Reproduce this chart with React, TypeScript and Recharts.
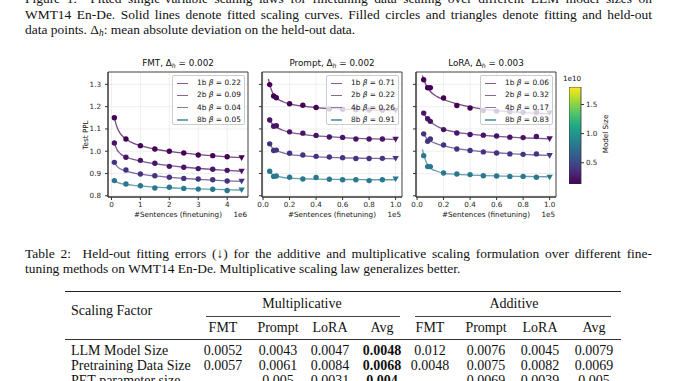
import React from 'react';
import { ComposedChart, Line, Scatter, XAxis, YAxis, CartesianGrid, ReferenceArea, BarChart, Bar } from 'recharts';

// ---------- shared ----------
const MODELS = ['1b', '2b', '4b', '8b'];
const MODEL_COLORS = ['#440154', '#481467', '#46337f', '#2a788e'];
const Y_TICKS = [0.8, 0.9, 1.0, 1.1, 1.2, 1.3];
const Y_DOMAIN: [number, number] = [0.7945, 1.3555];

// ---------- FMT (x in 1e6 sentences) ----------
const fmtXTicks = [0, 1, 2, 3, 4];
const fmtXDomain: [number, number] = [-0.12, 4.72];
const fmtDelta = '0.002';
const fmtBetas = [0.22, 0.09, 0.04, 0.05];
const fmtFitX = [0.1, 0.5, 1, 1.5, 2, 2.5, 3, 3.5, 4];
const fmtHeldX = [4.5];
const fmtFit1b = [1.150, 1.055, 1.025, 1.010, 1.000, 0.992, 0.983, 0.980, 0.975];
const fmtFit2b = [1.037, 0.973, 0.959, 0.946, 0.932, 0.928, 0.922, 0.919, 0.914];
const fmtFit4b = [0.950, 0.916, 0.898, 0.890, 0.883, 0.878, 0.875, 0.872, 0.866];
const fmtFit8b = [0.868, 0.853, 0.845, 0.835, 0.838, 0.833, 0.830, 0.829, 0.824];
const fmtHeld1b = [0.970];
const fmtHeld2b = [0.910];
const fmtHeld4b = [0.865];
const fmtHeld8b = [0.826];
const fmtCurveX = [0.1, 0.2, 0.3, 0.5, 0.75, 1, 1.5, 2, 2.5, 3, 3.5, 4, 4.5];
const fmtCurve1b = [1.150, 1.105, 1.080, 1.055, 1.036, 1.025, 1.009, 0.999, 0.991, 0.985, 0.980, 0.975, 0.971];
const fmtCurve2b = [1.037, 1.005, 0.990, 0.974, 0.963, 0.956, 0.944, 0.935, 0.928, 0.923, 0.918, 0.914, 0.910];
const fmtCurve4b = [0.950, 0.931, 0.921, 0.911, 0.903, 0.897, 0.889, 0.883, 0.878, 0.874, 0.870, 0.867, 0.865];
const fmtCurve8b = [0.868, 0.860, 0.856, 0.851, 0.847, 0.844, 0.839, 0.836, 0.833, 0.831, 0.829, 0.827, 0.826];

// ---------- Prompt / LoRA (x in 1e5 sentences) ----------
const plXTicks = [0, 0.2, 0.4, 0.6, 0.8, 1.0];
const plXDomain: [number, number] = [-0.008, 1.048];
const plFitX = [0.05, 0.08, 0.1, 0.2, 0.3, 0.4, 0.5, 0.6, 0.7, 0.8, 0.9];
const plHeldX = [1.0];
const plCurveX = [0.04, 0.05, 0.07, 0.1, 0.15, 0.2, 0.3, 0.4, 0.5, 0.6, 0.7, 0.8, 0.9, 1.0];

const promptDelta = '0.002';
const promptBetas = [0.71, 0.22, 0.26, 0.91];
const promptFit1b = [1.299, 1.248, 1.240, 1.213, 1.206, 1.196, 1.190, 1.188, 1.186, 1.185, 1.184];
const promptFit2b = [1.140, 1.112, 1.114, 1.087, 1.081, 1.071, 1.064, 1.062, 1.055, 1.055, 1.055];
const promptFit4b = [1.033, 1.003, 1.005, 0.991, 0.983, 0.977, 0.974, 0.971, 0.967, 0.967, 0.968];
const promptFit8b = [0.910, 0.887, 0.889, 0.883, 0.875, 0.882, 0.874, 0.872, 0.872, 0.868, 0.872];
const promptHeld1b = [1.182];
const promptHeld2b = [1.053];
const promptHeld4b = [0.967];
const promptHeld8b = [0.875];
const promptCurve1b = [1.325, 1.300, 1.265, 1.240, 1.222, 1.212, 1.202, 1.196, 1.192, 1.189, 1.187, 1.185, 1.183, 1.182];
const promptCurve2b = [1.150, 1.140, 1.122, 1.108, 1.094, 1.085, 1.076, 1.069, 1.065, 1.061, 1.058, 1.056, 1.054, 1.053];
const promptCurve4b = [1.040, 1.032, 1.015, 1.003, 0.993, 0.986, 0.979, 0.975, 0.972, 0.970, 0.969, 0.968, 0.967, 0.966];
const promptCurve8b = [0.913, 0.908, 0.896, 0.889, 0.882, 0.879, 0.876, 0.875, 0.874, 0.873, 0.873, 0.872, 0.872, 0.872];

const loraDelta = '0.003';
const loraBetas = [0.06, 0.32, 0.17, 0.83];
const loraFit1b = [1.321, 1.285, 1.285, 1.239, 1.205, 1.194, 1.183, 1.180, 1.177, 1.175, 1.174];
const loraFit2b = [1.171, 1.146, 1.134, 1.097, 1.082, 1.075, 1.072, 1.068, 1.063, 1.061, 1.066];
const loraFit4b = [1.078, 1.045, 1.055, 1.028, 1.010, 1.003, 0.997, 0.992, 0.988, 0.986, 0.988];
const loraFit8b = [0.980, 0.931, 0.931, 0.902, 0.898, 0.895, 0.890, 0.889, 0.887, 0.887, 0.883];
const loraHeld1b = [1.171];
const loraHeld2b = [1.055];
const loraHeld4b = [0.980];
const loraHeld8b = [0.883];
const loraCurve1b = [1.340, 1.322, 1.295, 1.268, 1.245, 1.232, 1.212, 1.199, 1.189, 1.182, 1.177, 1.173, 1.170, 1.168];
const loraCurve2b = [1.180, 1.170, 1.150, 1.132, 1.112, 1.099, 1.085, 1.077, 1.071, 1.067, 1.063, 1.060, 1.058, 1.056];
const loraCurve4b = [1.085, 1.076, 1.060, 1.046, 1.033, 1.024, 1.012, 1.004, 0.998, 0.993, 0.989, 0.986, 0.983, 0.981];
const loraCurve8b = [1.008, 0.985, 0.950, 0.925, 0.910, 0.902, 0.896, 0.893, 0.891, 0.889, 0.888, 0.887, 0.886, 0.885];

// ---------- colorbar ----------
const colorbarRange = [0.135, 1.8];
const colorbarTicks = [0.5, 1.0, 1.5];
const VIRIDIS = ['#440154', '#482475', '#414487', '#355f8d', '#2a788e', '#21918c', '#22a884', '#44bf70', '#7ad151', '#bddf26', '#fde725'];

// ---------- table ----------
const tableSubCols = ['FMT', 'Prompt', 'LoRA', 'Avg'];
const tableRowLabels = ['LLM Model Size', 'Pretraining Data Size', 'PET parameter size'];
const multRows = [
  ['0.0052', '0.0043', '0.0047', '0.0048'],
  ['0.0057', '0.0061', '0.0084', '0.0068'],
  ['', '0.005', '0.0031', '0.004'],
];
const addRows = [
  ['0.012', '0.0076', '0.0045', '0.0079'],
  ['0.0048', '0.0075', '0.0082', '0.0069'],
  ['', '0.0069', '0.0039', '0.005'],
];

// ---------- helpers ----------
const pts = (xs: number[], ys: number[]) => xs.map((x, i) => ({ x, y: ys[i] }));

type Series = { name: string; beta: number; color: string; fit: any[]; held: any[]; curve: any[] };

const makeSeries = (fitX: number[], heldX: number[], curveX: number[], betas: number[], fits: number[][], helds: number[][], curves: number[][]): Series[] =>
  MODELS.map((m, i) => ({
    name: m,
    beta: betas[i],
    color: MODEL_COLORS[i],
    fit: pts(fitX, fits[i]),
    held: pts(heldX, helds[i]),
    curve: pts(curveX, curves[i]),
  }));

const fmtSeries = makeSeries(fmtFitX, fmtHeldX, fmtCurveX, fmtBetas,
  [fmtFit1b, fmtFit2b, fmtFit4b, fmtFit8b], [fmtHeld1b, fmtHeld2b, fmtHeld4b, fmtHeld8b],
  [fmtCurve1b, fmtCurve2b, fmtCurve4b, fmtCurve8b]);
const promptSeries = makeSeries(plFitX, plHeldX, plCurveX, promptBetas,
  [promptFit1b, promptFit2b, promptFit4b, promptFit8b], [promptHeld1b, promptHeld2b, promptHeld4b, promptHeld8b],
  [promptCurve1b, promptCurve2b, promptCurve4b, promptCurve8b]);
const loraSeries = makeSeries(plFitX, plHeldX, plCurveX, loraBetas,
  [loraFit1b, loraFit2b, loraFit4b, loraFit8b], [loraHeld1b, loraHeld2b, loraHeld4b, loraHeld8b],
  [loraCurve1b, loraCurve2b, loraCurve4b, loraCurve8b]);

const SANS = "'DejaVu Sans', sans-serif";
const SERIF = "'Liberation Serif', 'Times New Roman', serif";
const TICK_FONT = 7.2;
const tickStyle = { fontSize: TICK_FONT, fill: '#262626', fontFamily: SANS };

const PW = 140;
const PH = 125;
const PLOT_TOP = 72;
const MT = 12;
const XH = 28;
const MR = 12;

const circleShape = (color: string) => (p: any) => <circle cx={p.cx} cy={p.cy} r={2.7} fill={color} />;
const triShape = (color: string) => (p: any) => (
  <polygon points={`${p.cx - 3.2},${p.cy - 2.6} ${p.cx + 3.2},${p.cy - 2.6} ${p.cx},${p.cy + 3}`} fill={color} />
);

function MathTitle({ method, delta }: { method: string; delta: string }) {
  return (
    <span>
      {method}, Δ<span style={{ fontStyle: 'italic', fontSize: '0.7em', position: 'relative', top: '0.3em' }}>h</span> = {delta}
    </span>
  );
}

function Panel({ plotLeft, yAxisWidth, xDomain, xTicks, xFmt, showY, series, method, delta, offsetText }: any) {
  const containerLeft = plotLeft - yAxisWidth;
  return (
    <>
      <div style={{ position: 'absolute', left: containerLeft, top: PLOT_TOP - MT }}>
        <ComposedChart width={yAxisWidth + PW + MR} height={MT + PH + XH} margin={{ top: MT, right: MR, bottom: 0, left: 0 }}>
          <CartesianGrid stroke="#ebebeb" strokeWidth={0.8} />
          <XAxis type="number" dataKey="x" domain={xDomain} ticks={xTicks} allowDataOverflow interval={0}
            height={XH} tickFormatter={xFmt} tick={tickStyle} tickSize={3} tickMargin={2} stroke="#333" />
          <YAxis type="number" dataKey="y" domain={Y_DOMAIN} ticks={Y_TICKS} allowDataOverflow interval={0}
            width={yAxisWidth} tickFormatter={showY ? (v: number) => v.toFixed(1) : () => ''} tick={tickStyle}
            tickSize={3} tickMargin={4} stroke="#333" />
          {series.map((s: Series) => (
            <Line key={'l' + s.name} data={s.curve} dataKey="y" type="monotone" dot={false} stroke={s.color}
              strokeOpacity={0.72} strokeWidth={1.3} isAnimationActive={false} />
          ))}
          {series.map((s: Series) => (
            <Scatter key={'f' + s.name} data={s.fit} dataKey="y" shape={circleShape(s.color)} isAnimationActive={false} />
          ))}
          {series.map((s: Series) => (
            <Scatter key={'h' + s.name} data={s.held} dataKey="y" shape={triShape(s.color)} isAnimationActive={false} />
          ))}
          <ReferenceArea x1={xDomain[0]} x2={xDomain[1]} y1={Y_DOMAIN[0]} y2={Y_DOMAIN[1]} fill="none" fillOpacity={0}
            stroke="#333" strokeWidth={0.9} ifOverflow="visible" />
        </ComposedChart>
      </div>
      {/* title */}
      <div style={{ position: 'absolute', left: plotLeft, top: 57, width: PW, textAlign: 'center', fontFamily: SANS, fontSize: 8.8, lineHeight: '12px', color: '#111', whiteSpace: 'nowrap' }}>
        <MathTitle method={method} delta={delta} />
      </div>
      {/* legend */}
      <div style={{ position: 'absolute', left: plotLeft + PW - 3 - 73, top: PLOT_TOP + 3, width: 73, height: 50, boxSizing: 'border-box', border: '0.8px solid #cccccc', borderRadius: 2, background: 'rgba(255,255,255,0.8)' }}>
        {series.map((s: Series, i: number) => (
          <div key={s.name} style={{ position: 'absolute', left: 0, top: 1.2 + i * 12.2, height: 12.2, width: 73 }}>
            <div style={{ position: 'absolute', left: 4, top: 5.5, width: 11, height: 1.4, background: s.color, opacity: 0.65 }} />
            <div style={{ position: 'absolute', left: 24, top: 0, lineHeight: '12.2px', fontFamily: SANS, fontSize: 7.4, color: '#111', whiteSpace: 'nowrap' }}>
              {s.name} <i>β</i> = {s.beta.toFixed(2)}
            </div>
          </div>
        ))}
      </div>
      {/* x label + offset */}
      <div style={{ position: 'absolute', left: plotLeft, top: 209, width: PW, textAlign: 'center', fontFamily: SANS, fontSize: TICK_FONT, lineHeight: '12px', color: '#111', whiteSpace: 'nowrap' }}>
        #Sentences (finetuning)
      </div>
      <div style={{ position: 'absolute', left: plotLeft, top: 209, width: PW - 1, textAlign: 'right', fontFamily: SANS, fontSize: TICK_FONT, lineHeight: '12px', color: '#111' }}>
        {offsetText}
      </div>
    </>
  );
}

function Colorbar() {
  const data = [{ name: 'Model Size', v: colorbarRange[1] }];
  return (
    <>
      <div style={{ position: 'absolute', left: 569, top: 87 }}>
        <BarChart width={12 + 28} height={97} data={data} margin={{ top: 0, right: 0, bottom: 0, left: 0 }} barCategoryGap={0}>
          <defs>
            <linearGradient id="viridisGrad" x1="0" y1="1" x2="0" y2="0">
              {VIRIDIS.map((c, i) => (
                <stop key={i} offset={`${(i / (VIRIDIS.length - 1)) * 100}%`} stopColor={c} />
              ))}
            </linearGradient>
          </defs>
          <XAxis dataKey="name" hide />
          <YAxis orientation="right" type="number" domain={colorbarRange} ticks={colorbarTicks} allowDataOverflow interval={0}
            width={28} axisLine={false} tickFormatter={(v: number) => v.toFixed(1)} tick={tickStyle} tickSize={3} tickMargin={2} stroke="#333" />
          <Bar dataKey="v" fill="url(#viridisGrad)" stroke="#333" strokeWidth={0.8} isAnimationActive={false} />
        </BarChart>
      </div>
      <div style={{ position: 'absolute', left: 563, top: 74, fontFamily: SANS, fontSize: TICK_FONT, lineHeight: '10px', color: '#111' }}>1e10</div>
      <div style={{ position: 'absolute', left: 605, top: 134, transform: 'translate(-50%,-50%) rotate(-90deg)', fontFamily: SANS, fontSize: TICK_FONT, color: '#111', whiteSpace: 'nowrap' }}>
        Model Size
      </div>
    </>
  );
}

const colCenters = [223, 278, 330, 382, 430, 486, 540, 594];
const TABLE_FONT = 14;

function Table() {
  const cell = (text: string, cx: number, cy: number, bold = false) => (
    <div key={`${cx}-${cy}-${text}`} style={{ position: 'absolute', left: cx - 40, top: cy - 8, width: 80, textAlign: 'center', fontFamily: SERIF, fontSize: TABLE_FONT, lineHeight: '16px', fontWeight: bold ? 700 : 400, color: '#111' }}>{text}</div>
  );
  const rowYs = [351, 366, 381];
  return (
    <>
      <div style={{ position: 'absolute', left: 65, top: 291, width: 556, height: 1.4, background: '#222' }} />
      {cell('Multiplicative', 302, 304)}
      {cell('Additive', 514, 304)}
      <div style={{ position: 'absolute', left: 206, top: 315.5, width: 194, height: 0.7, background: '#444' }} />
      <div style={{ position: 'absolute', left: 415, top: 315.5, width: 196, height: 0.7, background: '#444' }} />
      <div style={{ position: 'absolute', left: 71, top: 303, fontFamily: SERIF, fontSize: TABLE_FONT, lineHeight: '16px', color: '#111', whiteSpace: 'nowrap' }}>Scaling Factor</div>
      {[...tableSubCols, ...tableSubCols].map((c, i) => cell(c, colCenters[i], 328))}
      <div style={{ position: 'absolute', left: 65, top: 339, width: 556, height: 0.9, background: '#333' }} />
      {tableRowLabels.map((r, ri) => (
        <div key={r} style={{ position: 'absolute', left: 71, top: rowYs[ri] - 8, fontFamily: SERIF, fontSize: TABLE_FONT, lineHeight: '16px', color: '#111', whiteSpace: 'nowrap' }}>{r}</div>
      ))}
      {multRows.map((row, ri) => row.map((v, ci) => cell(v, colCenters[ci], rowYs[ri], ci === 3)))}
      {addRows.map((row, ri) => row.map((v, ci) => cell(v, colCenters[4 + ci], rowYs[ri])))}
    </>
  );
}

const lineStyle = (top: number, justify: boolean): React.CSSProperties => ({
  position: 'absolute', left: 25, top, width: 627, fontFamily: SERIF, fontSize: 13.45, lineHeight: '15px', color: '#111',
  whiteSpace: 'nowrap', textAlign: justify ? 'justify' : 'left', textAlignLast: justify ? 'justify' : 'left',
});

export default function App() {
  return (
    <div style={{ position: 'absolute', left: 0, top: 0, width: 678, height: 381, overflow: 'hidden', background: '#fff' }}>
      <div style={lineStyle(-9, true)}>Figure 1:&nbsp; Fitted single-variable scaling laws for finetuning data scaling over different LLM model sizes on</div>
      <div style={lineStyle(6.5, true)}>WMT14 En-De. Solid lines denote fitted scaling curves. Filled circles and triangles denote fitting and held-out</div>
      <div style={lineStyle(21.5, false)}>
        data points. Δ<span style={{ fontStyle: 'italic', fontSize: '0.7em', position: 'relative', top: '0.3em' }}>h</span>: mean absolute deviation on the held-out data.
      </div>

      <div style={{ position: 'absolute', left: 85, top: 134.5, transform: 'translate(-50%,-50%) rotate(-90deg)', fontFamily: SANS, fontSize: TICK_FONT, color: '#111', whiteSpace: 'nowrap' }}>Test PPL</div>

      <Panel plotLeft={108} yAxisWidth={38} xDomain={fmtXDomain} xTicks={fmtXTicks} xFmt={(v: number) => String(v)} showY
        series={fmtSeries} method="FMT" delta={fmtDelta} offsetText="1e6" />
      <Panel plotLeft={262} yAxisWidth={12} xDomain={plXDomain} xTicks={plXTicks} xFmt={(v: number) => v.toFixed(1)} showY={false}
        series={promptSeries} method="Prompt" delta={promptDelta} offsetText="1e5" />
      <Panel plotLeft={416} yAxisWidth={12} xDomain={plXDomain} xTicks={plXTicks} xFmt={(v: number) => v.toFixed(1)} showY={false}
        series={loraSeries} method="LoRA" delta={loraDelta} offsetText="1e5" />
      <Colorbar />

      <div style={lineStyle(245.5, true)}>Table 2:&nbsp; Held-out fitting errors (↓) for the additive and multiplicative scaling formulation over different fine-</div>
      <div style={lineStyle(260.5, false)}>tuning methods on WMT14 En-De. Multiplicative scaling law generalizes better.</div>
      <Table />
    </div>
  );
}
